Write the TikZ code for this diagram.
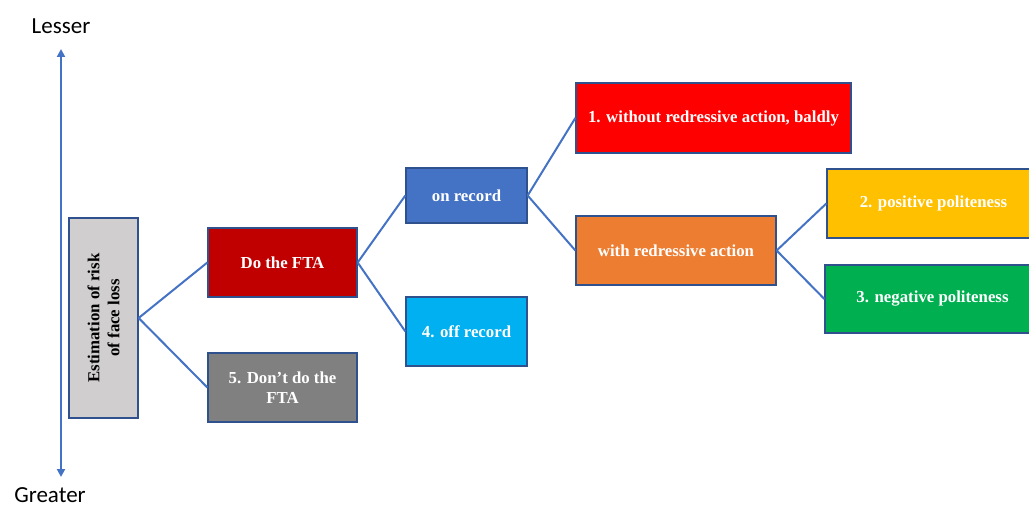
\documentclass[tikz,border=0pt]{standalone}
\usepackage{fontspec}
\setmainfont{Liberation Serif}
\newfontfamily\labelfont{Carlito}
\usetikzlibrary{arrows.meta}
\definecolor{edgeblue}{HTML}{4472C4}
\definecolor{rimblue}{HTML}{2F528F}
\definecolor{cgray}{HTML}{D0CECE}
\definecolor{cdark}{HTML}{C00000}
\definecolor{cmid}{HTML}{808080}
\definecolor{cblue}{HTML}{4472C4}
\definecolor{csky}{HTML}{00B0F0}
\definecolor{cred}{HTML}{FF0000}
\definecolor{corange}{HTML}{ED7D31}
\definecolor{cgold}{HTML}{FFC000}
\definecolor{cgreen}{HTML}{00B050}
\tikzset{
  box/.style={draw=rimblue, line width=1.3pt, inner sep=0pt, text=white,
    font=\fontsize{16.8}{20}\selectfont\bfseries, align=center},
  link/.style={draw=edgeblue, line width=2pt},
}
\begin{document}
\begin{tikzpicture}[x=1pt,y=-1pt]
\useasboundingbox (0,0) rectangle (1029,508);
% boxes given by their corners
\newcommand{\boxat}[7]{%
  \node[box, fill=#6, minimum width={#3-#1}, minimum height={#4-#2}] (#5)
    at ({(#1+#3)/2},{(#2+#4)/2}) {#7};}
\node[box, fill=cgray, text=black, minimum width=69, minimum height=200] (est) at (103.5,318) {};
\node[font=\fontsize{16.8}{20}\selectfont\bfseries, align=center, rotate=90] at (est.center) {Estimation of risk\\of face loss};
\boxat{208}{228}{357}{297}{fta}{cdark}{Do the FTA}
\boxat{208}{353}{357}{422}{nofta}{cmid}{5. Don’t do the\\FTA}
\boxat{406}{168}{527}{223}{onrec}{cblue}{on record}
\boxat{406}{297}{527}{366}{offrec}{csky}{4. off record}
\boxat{576}{83}{851}{153}{bald}{cred}{1. without redressive action, baldly}
\boxat{576}{216}{776}{285}{redr}{corange}{with redressive action}
\boxat{827}{169}{1040}{238}{pos}{cgold}{2. positive politeness}
\boxat{825}{265}{1040}{333}{neg}{cgreen}{3. negative politeness}
% tree connectors
\draw[link] (est.east) -- (fta.west);
\draw[link] (est.east) -- (nofta.west);
\draw[link] (fta.east) -- (onrec.west);
\draw[link] (fta.east) -- (offrec.west);
\draw[link] (onrec.east) -- (bald.west);
\draw[link] (onrec.east) -- (redr.west);
\draw[link] (redr.east) -- (pos.west);
\draw[link] (redr.east) -- (neg.west);
% scale of face loss
\node[font=\labelfont\fontsize{23}{26}\selectfont] (lesser) at (61,26) {Lesser};
\node[font=\labelfont\fontsize{23}{26}\selectfont] (greater) at (50,495) {Greater};
\coordinate (top) at (61,49);
\coordinate (bot) at (61,477);
\draw[edgeblue, line width=2pt, {Triangle[length=8pt,width=8pt]}-{Triangle[length=8pt,width=8pt]}] (bot) -- (top);
\end{tikzpicture}
\end{document}
